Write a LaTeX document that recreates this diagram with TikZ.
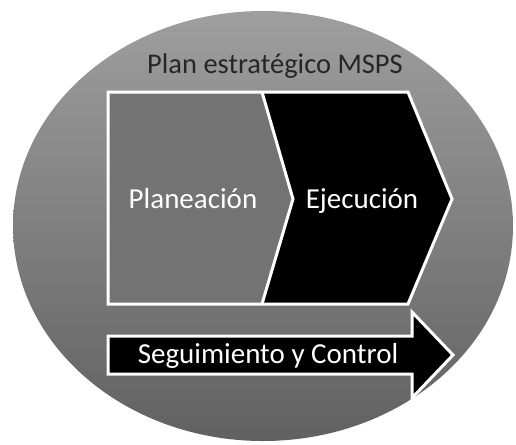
\documentclass[tikz,border=0pt]{standalone}
\usepackage{fontspec}
\setmainfont{Carlito}
\tikzset{
  whiteedge/.style={draw=white, line width=3pt, line join=miter},
  lbl/.style={anchor=base, inner sep=0pt, text=white, font=\fontsize{29}{32}\selectfont},
  ttl/.style={anchor=base, inner sep=0pt, text=black!85, font=\fontsize{28.5}{32}\selectfont},
}
\begin{document}
\begin{tikzpicture}[x=1pt,y=-1pt]
\useasboundingbox (0,0) rectangle (516,444);
% background oval
\shade[top color=black!38, bottom color=black!62] (263,226) ellipse [x radius=250, y radius=215];
% Planeacion
\fill[black!55] (108,92) -- (262,92) -- (293,199) -- (262,304) -- (108,304) -- cycle;
% Ejecucion
\fill[black] (262,92) -- (408,92) -- (452,199) -- (408,304) -- (262,304) -- (293,199) -- cycle;
\draw[whiteedge] (108,92) -- (408,92) -- (452,199) -- (408,304) -- (108,304) -- cycle;
\draw[whiteedge] (262,92) -- (293,199) -- (262,304);
% arrow
\draw[whiteedge, fill=black] (108,336) -- (412,336) -- (412,312) -- (453,355) -- (412,398) -- (412,374) -- (108,374) -- cycle;
% texts
\node[ttl] (title) at (275,73) {Plan estratégico MSPS};
\node[lbl] (plan) at (193,208) {Planeación};
\node[lbl] (ejec) at (362,208) {Ejecución};
\node[lbl] (seg) at (268,363) {Seguimiento y Control};
\end{tikzpicture}
\end{document}
